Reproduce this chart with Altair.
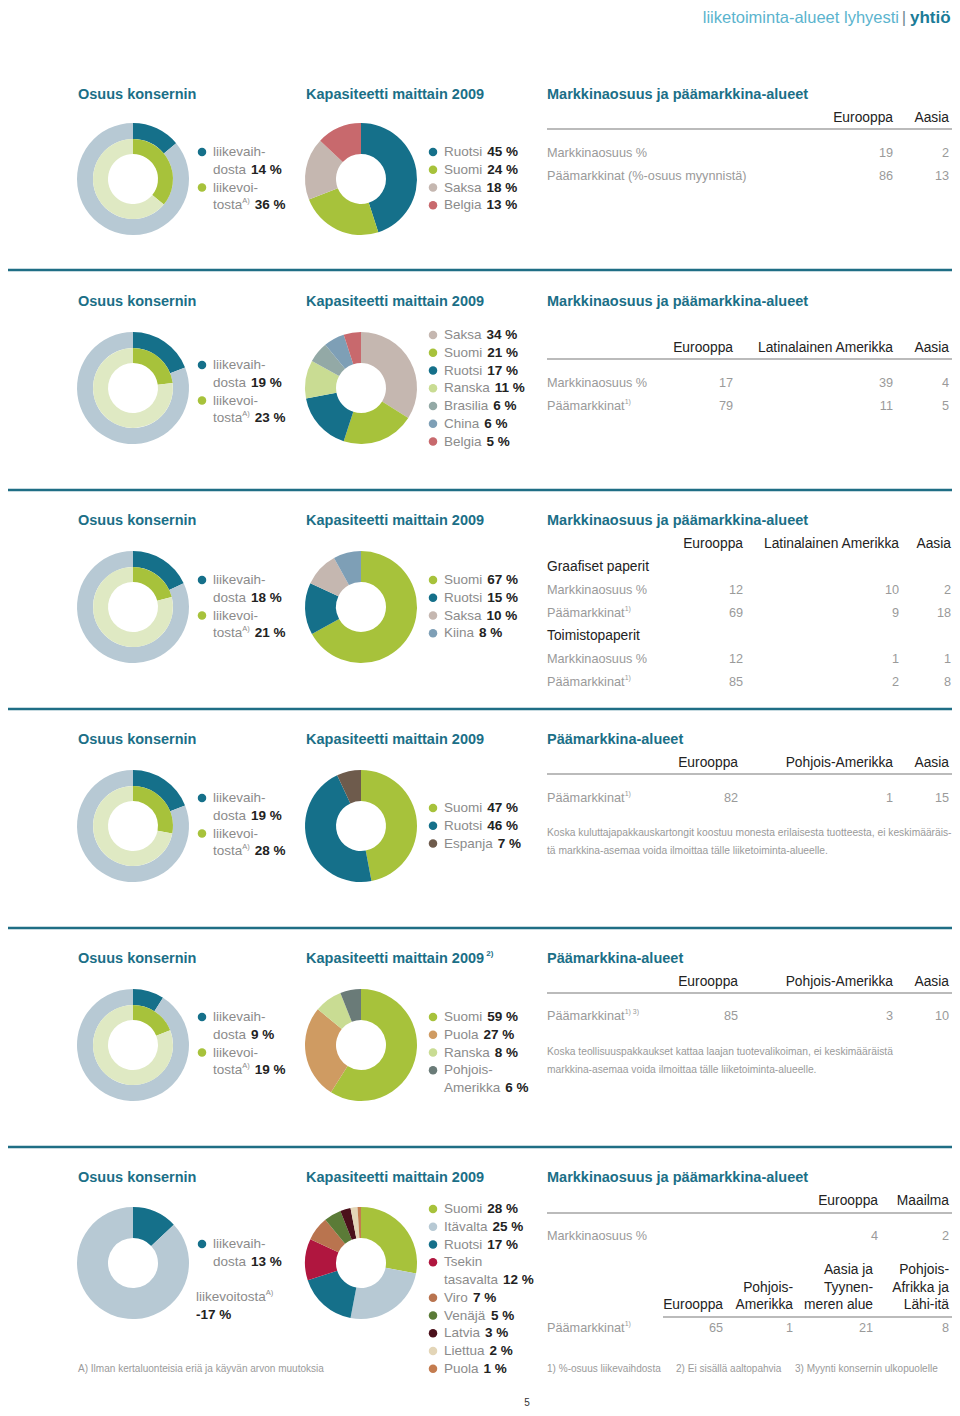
import altair as alt
import pandas as pd

# ------------------------------------------------------------------ content
TOP_TITLE = "liiketoiminta-alueet lyhyesti"
TOP_SEP = "|"
TOP_SECTION = "yhtiö"

H_SHARE = "Osuus konsernin"
H_CAPACITY = "Kapasiteetti maittain 2009"
H_MARKET = "Markkinaosuus ja päämarkkina-alueet"
H_MAIN = "Päämarkkina-alueet"

LV_LABEL = ["liikevaih-", "dosta"]
LVO_LABEL = ["liikevoi-", "tosta"]
LVO_LABEL_ONE = "liikevoitosta"
SUP_A = "A)"

SHARE_TURNOVER = [14, 19, 18, 19, 9, 13]
SHARE_PROFIT = [36, 23, 21, 28, 19, -17]

CAP1_NAMES = ["Ruotsi", "Suomi", "Saksa", "Belgia"]
CAP1_VALUES = [45, 24, 18, 13]
CAP2_NAMES = ["Saksa", "Suomi", "Ruotsi", "Ranska", "Brasilia", "China", "Belgia"]
CAP2_VALUES = [34, 21, 17, 11, 6, 6, 5]
CAP3_NAMES = ["Suomi", "Ruotsi", "Saksa", "Kiina"]
CAP3_VALUES = [67, 15, 10, 8]
CAP4_NAMES = ["Suomi", "Ruotsi", "Espanja"]
CAP4_VALUES = [47, 46, 7]
CAP5_NAMES = ["Suomi", "Puola", "Ranska", "Pohjois-\nAmerikka"]
CAP5_VALUES = [59, 27, 8, 6]
CAP6_NAMES = ["Suomi", "Itävalta", "Ruotsi", "Tsekin\ntasavalta", "Viro", "Venäjä",
              "Latvia", "Liettua", "Puola"]
CAP6_VALUES = [28, 25, 17, 12, 7, 5, 3, 2, 1]

ROW_MS = "Markkinaosuus %"
ROW_PM = "Päämarkkinat"
ROW_PM_LONG = "Päämarkkinat (%-osuus myynnistä)"

T1_COLS = ["Eurooppa", "Aasia"]
T1_MS = [19, 2]
T1_PM = [86, 13]
T2_COLS = ["Eurooppa", "Latinalainen Amerikka", "Aasia"]
T2_MS = [17, 39, 4]
T2_PM = [79, 11, 5]
T3_COLS = ["Eurooppa", "Latinalainen Amerikka", "Aasia"]
T3_GROUPS = ["Graafiset paperit", "Toimistopaperit"]
T3_MS = [[12, 10, 2], [12, 1, 1]]
T3_PM = [[69, 9, 18], [85, 2, 8]]
T4_COLS = ["Eurooppa", "Pohjois-Amerikka", "Aasia"]
T4_PM = [82, 1, 15]
T4_NOTE = ["Koska kuluttajapakkauskartongit koostuu monesta erilaisesta tuotteesta, ei keskimääräis-",
           "tä markkina-asemaa voida ilmoittaa tälle liiketoiminta-alueelle."]
T5_COLS = ["Eurooppa", "Pohjois-Amerikka", "Aasia"]
T5_PM = [85, 3, 10]
T5_NOTE = ["Koska teollisuuspakkaukset kattaa laajan tuotevalikoiman, ei keskimääräistä",
           "markkina-asemaa voida ilmoittaa tälle liiketoiminta-alueelle."]
T6_COLS_MS = ["Eurooppa", "Maailma"]
T6_MS = [4, 2]
T6_COLS_PM = ["Eurooppa", "Pohjois-\nAmerikka", "Aasia ja\nTyynen-\nmeren alue",
              "Pohjois-\nAfrikka ja\nLähi-itä"]
T6_PM = [65, 1, 21, 8]

FOOT_A = "A) Ilman kertaluonteisia eriä ja käyvän arvon muutoksia"
FOOTNOTES = ["1) %-osuus liikevaihdosta", "2) Ei sisällä aaltopahvia",
             "3) Myynti konsernin ulkopuolelle"]
PAGE_NO = "5"

# ------------------------------------------------------------------ styles
TEAL = "#15708a"
GREEN = "#a7c23b"
LBG = "#b7c9d4"
LGREEN = "#dfe9c3"
SAKSA = "#c5b7b0"
BELGIA = "#c8696d"
RANSKA = "#c9dc93"
CAP_COLORS = [
    [TEAL, GREEN, SAKSA, BELGIA],
    [SAKSA, GREEN, TEAL, RANSKA, "#93a9a6", "#7e9fb6", BELGIA],
    [GREEN, TEAL, SAKSA, "#7e9fb6"],
    [GREEN, TEAL, "#6e5b4c"],
    [GREEN, "#cf9b62", RANSKA, "#6a7b78"],
    [GREEN, LBG, TEAL, "#b0163f", "#b9744f", "#5b7b37", "#4b101b", "#e3d5b7", "#c47c4f"],
]
HEAD_C = "#1b6f87"
FONT = "Liberation Sans"

REG = {" ": 278, "%": 889, "(": 333, ")": 333, "-": 333, ".": 278, ",": 278, "|": 260}
for ch in "0123456789":
    REG[ch] = 556
REG.update(dict(zip("abcdefghijklmnopqrstuvwxyzäö",
                    [556, 556, 500, 556, 556, 278, 556, 556, 222, 222, 500, 222, 833, 556,
                     556, 556, 556, 333, 500, 278, 556, 500, 722, 500, 500, 500, 556, 556])))
REG.update(dict(zip("ABCDEFGHIJKLMNOPQRSTUVWXYZ",
                    [667, 667, 722, 722, 667, 611, 778, 722, 278, 500, 667, 556, 833, 722,
                     778, 667, 778, 722, 667, 611, 722, 667, 944, 667, 667, 611])))
BLD = dict(REG)
BLD.update(dict(zip("abcdefghijklmnopqrstuvwxyzäö",
                    [556, 611, 556, 611, 556, 333, 611, 611, 278, 278, 556, 278, 889, 611,
                     611, 611, 611, 389, 556, 333, 611, 556, 778, 556, 556, 500, 556, 611])))


def tw(s, size, bold=False):
    t = BLD if bold else REG
    return sum(t.get(c, 556) for c in s) * size / 1000.0


NOTE_SIZE = round(405 / tw(T4_NOTE[0], 1.0), 2)
FOOT_SIZE = round(246 / tw(FOOT_A, 1.0), 2)

STYLES = {
    "top1": dict(size=16.5, color="#5bb4ce", bold=False, align="right"),
    "topsep": dict(size=17, color="#6f8a93", bold=False, align="center"),
    "top2": dict(size=17, color="#1b7c98", bold=True, align="left"),
    "head": dict(size=14.5, color=HEAD_C, bold=True, align="left"),
    "hsup": dict(size=8, color=HEAD_C, bold=True, align="left", rise=5),
    "lab": dict(size=13.5, color="#8b8b8b", bold=False, align="left"),
    "sup": dict(size=7.5, color="#8b8b8b", bold=False, align="left", rise=4.5),
    "num": dict(size=13.5, color="#222222", bold=True, align="left"),
    "th": dict(size=13.8, color="#222222", bold=False, align="right"),
    "grp": dict(size=13.8, color="#222222", bold=False, align="left"),
    "tl": dict(size=12.7, color="#9a9a9a", bold=False, align="left"),
    "tsup": dict(size=7, color="#9a9a9a", bold=False, align="left", rise=4),
    "tv": dict(size=12.7, color="#9a9a9a", bold=False, align="right"),
    "note": dict(size=NOTE_SIZE, color="#9a9a9a", bold=False, align="left"),
    "foot": dict(size=FOOT_SIZE, color="#9a9a9a", bold=False, align="left"),
    "page": dict(size=10, color="#333333", bold=False, align="center"),
}

# ------------------------------------------------------------------ layout
OFF = 8
W, H = 944, 1400


def px(v):
    return v - OFF


texts = {k: [] for k in STYLES}
dots = []
rules = []
layers = []


def put(style, x, y, t):
    texts[style].append({"x": px(x), "y": px(y), "t": t})


def rich(x, y, segs):
    for style, s in segs:
        st = STYLES[style]
        if s.startswith(" "):
            x += tw(" ", st["size"], st["bold"]) * 1.3
            s = s.lstrip()
        put(style, x, y - st.get("rise", 0), s)
        x += tw(s, st["size"], st["bold"])


def dot(x, y, c):
    dots.append({"x": px(x), "y": px(y), "c": c})


def rule(x1, x2, y, c, w):
    rules.append({"x": max(px(x1), 0), "x2": min(px(x2), W), "y": px(y), "c": c, "w": w})


def donut(cx, cy, values, colors, r_out, r_in):
    df = pd.DataFrame({"v": values, "c": colors, "i": list(range(len(values)))})
    layers.append(
        alt.Chart(df).mark_arc(radius=r_out, radius2=r_in).encode(
            theta=alt.Theta("v:Q", stack="normalize"),
            color=alt.Color("c:N", scale=None),
            order=alt.Order("i:Q"),
            x=alt.value(px(cx)),
            y=alt.value(px(cy)),
        )
    )


ROW_TITLE_Y = [95, 302, 521, 740, 959, 1178]
DONUT_Y = [179, 388, 607, 826, 1045, 1263]
SHARE_LEG_Y = [152, 365, 580, 798, 1017, 1244]
CAP_LEG_Y = [152, 335, 580, 808, 1017, 1209]
SEP_Y = [270, 490, 709, 928, 1147]
LINE = 17.75
X_SHARE, X_CAP, X_TAB = 133, 361, 547
R_OUT, R_MID, R_IN = 56, 40, 25

# top header
put("top1", 899, 17.5, TOP_TITLE)
put("topsep", 904, 17.5, TOP_SEP)
put("top2", 910, 17.5, TOP_SECTION)

for y in SEP_Y:
    rule(0, 954, y, "#1f6e85", 2.5)

caps = [(CAP1_NAMES, CAP1_VALUES), (CAP2_NAMES, CAP2_VALUES), (CAP3_NAMES, CAP3_VALUES),
        (CAP4_NAMES, CAP4_VALUES), (CAP5_NAMES, CAP5_VALUES), (CAP6_NAMES, CAP6_VALUES)]

for r in range(6):
    ty = ROW_TITLE_Y[r]
    put("head", 78, ty, H_SHARE)
    if r == 4:
        rich(306, ty, [("head", H_CAPACITY), ("hsup", " 2)")])
    else:
        put("head", 306, ty, H_CAPACITY)
    put("head", X_TAB, ty, H_MAIN if r in (3, 4) else H_MARKET)

    cy = DONUT_Y[r]
    lv, lvo = SHARE_TURNOVER[r], SHARE_PROFIT[r]
    ly = SHARE_LEG_Y[r]
    if r < 5:
        donut(X_SHARE, cy, [lv, 100 - lv], [TEAL, LBG], R_OUT, R_MID)
        donut(X_SHARE, cy, [lvo, 100 - lvo], [GREEN, LGREEN], R_MID, R_IN)
        dot(202, ly, TEAL)
        put("lab", 213, ly, LV_LABEL[0])
        rich(213, ly + LINE, [("lab", LV_LABEL[1]), ("num", f" {lv} %")])
        dot(202, ly + 2 * LINE, GREEN)
        put("lab", 213, ly + 2 * LINE, LVO_LABEL[0])
        rich(213, ly + 3 * LINE, [("lab", LVO_LABEL[1]), ("sup", SUP_A), ("num", f" {lvo} %")])
    else:
        donut(X_SHARE, cy, [lv, 100 - lv], [TEAL, LBG], R_OUT, R_IN)
        dot(202, ly, TEAL)
        put("lab", 213, ly, LV_LABEL[0])
        rich(213, ly + LINE, [("lab", LV_LABEL[1]), ("num", f" {lv} %")])
        rich(196, 1297, [("lab", LVO_LABEL_ONE), ("sup", SUP_A)])
        put("num", 196, 1315, f"{lvo} %")

    names, vals = caps[r]
    donut(X_CAP, cy, vals, CAP_COLORS[r], R_OUT, R_IN)
    y = CAP_LEG_Y[r]
    for name, v, c in zip(names, vals, CAP_COLORS[r]):
        dot(433, y, c)
        parts = name.split("\n")
        for p in parts[:-1]:
            put("lab", 444, y, p)
            y += LINE
        rich(444, y, [("lab", parts[-1]), ("num", f" {v} %")])
        y += LINE


def header(cols, rights, y_bottom):
    for c, xr in zip(cols, rights):
        lines = c.split("\n")
        for k, ln in enumerate(lines):
            put("th", xr, y_bottom - (len(lines) - 1 - k) * 17.5, ln)


def values(vals, rights, y):
    for v, xr in zip(vals, rights):
        put("tv", xr, y, str(v))


RULE_C = "#a5a5a5"

# table 1
R1 = [893, 949]
header(T1_COLS, R1, 118)
rule(X_TAB, 954, 129, RULE_C, 1.5)
put("tl", X_TAB, 153, ROW_MS)
values(T1_MS, R1, 153)
put("tl", X_TAB, 176, ROW_PM_LONG)
values(T1_PM, R1, 176)

# table 2
R2 = [733, 893, 949]
header(T2_COLS, R2, 348)
rule(X_TAB, 954, 359, RULE_C, 1.5)
put("tl", X_TAB, 383, ROW_MS)
values(T2_MS, R2, 383)
rich(X_TAB, 406, [("tl", ROW_PM), ("tsup", "1)")])
values(T2_PM, R2, 406)

# table 3
R3 = [743, 899, 951]
header(T3_COLS, R3, 544)
for g, gy in enumerate([567, 636]):
    put("grp", X_TAB, gy, T3_GROUPS[g])
    put("tl", X_TAB, gy + 23, ROW_MS)
    values(T3_MS[g], R3, gy + 23)
    rich(X_TAB, gy + 46, [("tl", ROW_PM), ("tsup", "1)")])
    values(T3_PM[g], R3, gy + 46)

# table 4
R4 = [738, 893, 949]
header(T4_COLS, R4, 763)
rule(X_TAB, 954, 774, RULE_C, 1.5)
rich(X_TAB, 798, [("tl", ROW_PM), ("tsup", "1)")])
values(T4_PM, R4, 798)
put("note", X_TAB, 833, T4_NOTE[0])
put("note", X_TAB, 851, T4_NOTE[1])

# table 5
header(T5_COLS, R4, 982)
rule(X_TAB, 954, 993, RULE_C, 1.5)
rich(X_TAB, 1016, [("tl", ROW_PM), ("tsup", "1) 3)")])
values(T5_PM, R4, 1016)
put("note", X_TAB, 1052, T5_NOTE[0])
put("note", X_TAB, 1070, T5_NOTE[1])

# table 6
R6A = [878, 949]
header(T6_COLS_MS, R6A, 1201)
rule(X_TAB, 954, 1213, RULE_C, 1.5)
put("tl", X_TAB, 1236, ROW_MS)
values(T6_MS, R6A, 1236)
R6B = [723, 793, 873, 949]
header(T6_COLS_PM, R6B, 1305)
rule(663, 954, 1317, RULE_C, 1.5)
rich(X_TAB, 1328, [("tl", ROW_PM), ("tsup", "1)")])
values(T6_PM, R6B, 1328)

put("foot", 78, 1369, FOOT_A)
for fx, ft in zip([547, 676, 795], FOOTNOTES):
    put("foot", fx, 1369, ft)
put("page", 527, 1403, PAGE_NO)

# ------------------------------------------------------------------ marks
XQ = lambda f="x": alt.X(f"{f}:Q", scale=None, axis=None)
YQ = lambda f="y": alt.Y(f"{f}:Q", scale=None, axis=None)

rule_layer = alt.Chart(pd.DataFrame(rules)).mark_rule().encode(
    x=XQ(), x2=alt.X2("x2:Q"), y=YQ(),
    color=alt.Color("c:N", scale=None),
    strokeWidth=alt.StrokeWidth("w:Q", scale=None),
)
dot_layer = alt.Chart(pd.DataFrame(dots)).mark_circle(size=72, opacity=1).encode(
    x=XQ(), y=YQ(), color=alt.Color("c:N", scale=None)
)
layers += [rule_layer, dot_layer]

for name, rows in texts.items():
    if not rows:
        continue
    st = STYLES[name]
    layers.append(
        alt.Chart(pd.DataFrame(rows)).mark_text(
            align=st["align"], baseline="middle", font=FONT, fontSize=st["size"],
            fontWeight="bold" if st["bold"] else "normal", color=st["color"],
        ).encode(x=XQ(), y=YQ(), text="t:N")
    )

chart = alt.layer(*layers).properties(
    width=W, height=H,
    padding={"left": 0, "top": 0, "right": 0, "bottom": 0},
    autosize=alt.AutoSizeParams(type="none"),
    background="white",
).configure_view(stroke=None)

chart.save("out.html", embed_options={"renderer": "svg", "actions": False})
